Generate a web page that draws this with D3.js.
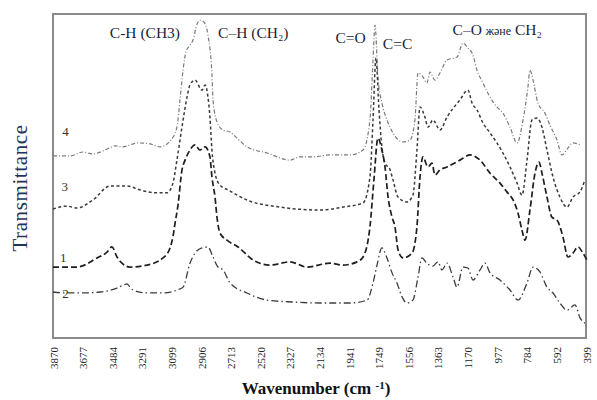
<!DOCTYPE html>
<html>
<head>
<meta charset="utf-8">
<script src="https://cdn.jsdelivr.net/npm/d3@7"></script>
<style>
  body { margin: 0; background: white; }
</style>
</head>
<body>
<div id="container"></div>
<script>
// tick labels on the wavenumber axis
let wavenumberTicks = [3870, 3677, 3484, 3291, 3099, 2906, 2713, 2520, 2327, 2134,
                       1941, 1749, 1556, 1363, 1170, 977, 784, 592, 399];

// spectra: [wavenumber, transmittance (arbitrary, offset)]
let spectrum1 = [[3870,21.9],[3714,21.9],[3583,24.7],[3518,26.5],[3486,28.1],[3453,25.0],[3421,23.1],
  [3369,21.9],[3258,22.5],[3154,24.7],[3108,27.8],[3089,31.2],[3075,35.5],[3056,41.0],[3030,51.9],
  [3010,54.9],[2978,58.0],[2945,59.6],[2913,58.0],[2880,59.0],[2848,55.9],[2835,49.7],[2815,43.5],
  [2802,37.3],[2783,32.4],[2737,30.2],[2665,28.1],[2568,24.1],[2457,22.5],[2327,23.5],[2216,21.9],
  [2066,23.1],[1982,22.5],[1890,23.5],[1851,25.0],[1806,34.3],[1780,48.8],[1754,61.7],[1728,58.0],
  [1708,52.8],[1688,43.5],[1662,37.3],[1643,34.3],[1623,27.2],[1591,24.7],[1532,26.2],[1500,34.3],
  [1480,49.7],[1461,55.9],[1428,52.8],[1402,54.0],[1383,50.3],[1350,51.9],[1304,52.8],[1220,54.9],
  [1154,56.5],[1089,54.9],[1024,50.9],[959,47.8],[914,45.1],[874,42.6],[842,38.6],[816,33.3],
  [796,30.2],[764,39.5],[731,50.9],[705,54.3],[686,50.9],[653,43.5],[621,37.3],[588,36.4],
  [549,31.2],[517,25.0],[484,26.2],[451,28.1],[419,26.2],[393,24.1]];

let spectrum2 = [[3870,14.2],[3779,13.9],[3675,13.9],[3564,14.2],[3453,15.4],[3408,16.4],[3388,16.7],
  [3369,15.7],[3349,14.8],[3258,13.9],[3154,13.9],[3063,14.8],[3023,15.7],[2978,23.1],[2945,26.2],
  [2900,27.8],[2861,28.1],[2828,25.0],[2796,21.9],[2763,21.0],[2717,17.0],[2607,13.9],[2476,11.7],
  [2307,11.1],[2131,10.8],[1936,10.8],[1825,11.7],[1786,17.0],[1760,22.5],[1728,27.8],[1695,24.7],
  [1662,20.1],[1630,17.0],[1597,12.7],[1565,10.8],[1526,11.7],[1493,18.8],[1467,24.7],[1435,23.1],
  [1396,22.2],[1363,23.5],[1337,21.0],[1304,23.1],[1265,18.8],[1239,15.7],[1200,21.9],[1168,21.6],
  [1135,17.9],[1089,21.0],[1057,23.1],[1024,20.1],[959,17.9],[894,14.8],[842,11.7],[783,17.0],
  [744,21.9],[699,20.4],[653,15.7],[614,13.9],[569,10.8],[523,8.6],[471,10.2],[438,6.2],[406,4.6]];

let spectrum3 = [[3870,39.8],[3779,40.7],[3714,40.1],[3610,42.6],[3499,46.9],[3388,46.9],[3303,45.7],
  [3193,44.8],[3128,44.8],[3089,47.8],[3063,54.9],[3030,65.1],[2997,74.4],[2978,78.1],[2945,79.6],
  [2900,76.5],[2880,78.1],[2861,74.4],[2848,68.2],[2835,58.0],[2815,50.9],[2783,47.2],[2730,45.7],
  [2607,42.6],[2392,40.4],[2131,39.5],[1982,40.4],[1851,41.7],[1806,49.7],[1786,67.3],[1767,86.4],
  [1747,70.4],[1728,58.9],[1708,54.0],[1675,51.9],[1656,48.8],[1623,43.5],[1565,42.0],[1526,44.1],
  [1500,58.0],[1480,71.3],[1448,68.2],[1428,65.1],[1396,67.3],[1350,64.2],[1304,68.2],[1220,73.5],
  [1168,76.5],[1141,72.5],[1109,70.4],[1070,66.4],[1024,63.3],[979,60.2],[940,57.1],[894,52.8],
  [848,47.8],[816,44.1],[783,54.9],[751,67.3],[718,67.9],[686,65.1],[653,58.0],[614,49.7],
  [569,43.5],[523,40.4],[484,43.5],[438,45.1],[406,48.8]];

let spectrum4 = [[3870,56.2],[3759,56.2],[3675,57.4],[3610,56.8],[3531,58.0],[3466,59.3],[3421,59.0],
  [3316,60.2],[3238,59.9],[3173,59.0],[3108,60.8],[3063,65.1],[3043,73.5],[3023,82.7],[3004,88.3],
  [2978,90.4],[2958,92.0],[2932,96.9],[2913,98.1],[2887,97.5],[2861,93.5],[2835,81.5],[2828,73.5],
  [2802,66.7],[2763,64.2],[2717,63.6],[2685,62.3],[2607,59.0],[2476,57.1],[2327,54.9],[2262,55.9],
  [2177,55.9],[2066,56.5],[1936,56.5],[1851,58.0],[1806,67.3],[1786,85.8],[1773,96.6],[1754,80.6],
  [1728,72.5],[1695,67.3],[1656,63.3],[1591,60.5],[1545,61.1],[1513,67.3],[1493,81.8],[1461,80.6],
  [1435,78.7],[1415,82.1],[1383,79.6],[1350,81.8],[1304,85.8],[1239,86.7],[1200,91.0],[1168,89.5],
  [1135,87.3],[1109,82.7],[1070,78.7],[1024,74.4],[979,71.3],[940,69.4],[894,65.1],[848,60.2],
  [809,67.3],[777,77.5],[764,82.7],[744,79.6],[712,72.5],[666,69.4],[634,65.7],[588,61.1],
  [556,56.5],[517,58.6],[484,60.2],[438,59.6]];

// curve numbers and where they sit (wavenumber, transmittance)
let curveNames = ["4", "3", "1", "2"];
let curveNameSpots = [[3810, 62.5], [3815, 45.5], [3825, 23.5], [3810, 12.3]];

// band assignments
let bandLabels = ["C-H (CH3)", "C\u2013H (CH\u2082)", "C=O", "C=C"];
let bandSpots = [[3500, 92.6], [2795, 92.6], [2030, 91.0], [1722, 89.2]];

let w = 597;
let h = 400;

let viz = d3.select("#container")
  .append("svg")
    .attr("width", w)
    .attr("height", h)
    .style("background-color", "white");

let xScale = d3.scaleLinear().domain([3870, 399]).range([53, 586]);
let yScale = d3.scaleLinear().domain([0, 100]).range([338, 14]);

// frame
viz.append("rect")
  .attr("x", 53).attr("y", 14)
  .attr("width", 533).attr("height", 324)
  .attr("fill", "none")
  .attr("stroke", "#858585")
  .attr("stroke-width", 1.9);

// x axis labels, rotated
let xAxis = d3.axisBottom(xScale).tickValues(wavenumberTicks).tickSize(0).tickFormat(d3.format("d"));
let axisG = viz.append("g").attr("transform", "translate(0,338)").call(xAxis);
axisG.select(".domain").remove();
axisG.selectAll("text")
  .attr("transform", "translate(4,9) rotate(-90)")
  .attr("x", 0).attr("y", 0).attr("dy", 0)
  .attr("text-anchor", "end")
  .attr("fill", "#222")
  .style("font-family", "Liberation Serif, serif")
  .style("font-size", "11px");

let line = d3.line()
  .x(d => xScale(d[0]))
  .y(d => yScale(d[1]))
  .curve(d3.curveMonotoneX);

let curves = [
  {data: spectrum4, color: "#7a7a7a", width: 1.2, dash: "4,2,1,2"},
  {data: spectrum3, color: "#3a3a3a", width: 1.5, dash: "3,2.5"},
  {data: spectrum1, color: "#1e1e1e", width: 1.7, dash: "6,3"},
  {data: spectrum2, color: "#3c3c3c", width: 1.3, dash: "7,3,1.5,3"}
];

viz.selectAll(".spectrum").data(curves).enter()
  .append("path")
    .classed("spectrum", true)
    .attr("d", d => line(d.data))
    .attr("fill", "none")
    .attr("stroke", d => d.color)
    .attr("stroke-width", d => d.width)
    .attr("stroke-dasharray", d => d.dash);

viz.selectAll(".curvename").data(curveNames).enter()
  .append("text")
    .classed("curvename", true)
    .text(d => d)
    .attr("x", (d, i) => xScale(curveNameSpots[i][0]))
    .attr("y", (d, i) => yScale(curveNameSpots[i][1]))
    .attr("fill", "#3a3020")
    .style("font-family", "Liberation Serif, serif")
    .style("font-size", "13px");

viz.selectAll(".band").data(bandLabels).enter()
  .append("text")
    .classed("band", true)
    .text(d => d)
    .attr("x", (d, i) => xScale(bandSpots[i][0]))
    .attr("y", (d, i) => yScale(bandSpots[i][1]))
    .attr("fill", "#1b2438")
    .style("font-family", "Liberation Serif, serif")
    .style("font-size", "15.5px");

// C–O band label with the smaller Kazakh word
let coLabel = viz.append("text")
  .attr("x", xScale(1268)).attr("y", yScale(93.5))
  .attr("fill", "#1b2438")
  .style("font-family", "Liberation Serif, serif")
  .style("font-size", "15.5px");
coLabel.append("tspan").text("C\u2013O ");
coLabel.append("tspan").text("\u0436\u04d9\u043d\u0435").style("font-size", "12px");
coLabel.append("tspan").text(" CH\u2082");

// axis titles
viz.append("text")
  .text("Transmittance")
  .attr("transform", "translate(27,188) rotate(-90)")
  .attr("text-anchor", "middle")
  .attr("fill", "#1f3458")
  .style("font-family", "Liberation Serif, serif")
  .style("font-size", "21px")
  .style("letter-spacing", "0.6px");

let xt = viz.append("text")
  .attr("x", 316).attr("y", 394)
  .attr("text-anchor", "middle")
  .attr("fill", "#111")
  .style("font-family", "Liberation Serif, serif")
  .style("font-size", "17px")
  .style("font-weight", "bold");
xt.append("tspan").text("Wavenumber (cm ");
xt.append("tspan").text("-1").attr("dy", -5).style("font-size", "11px");
xt.append("tspan").text(")").attr("dy", 5);
</script>
</body>
</html>
